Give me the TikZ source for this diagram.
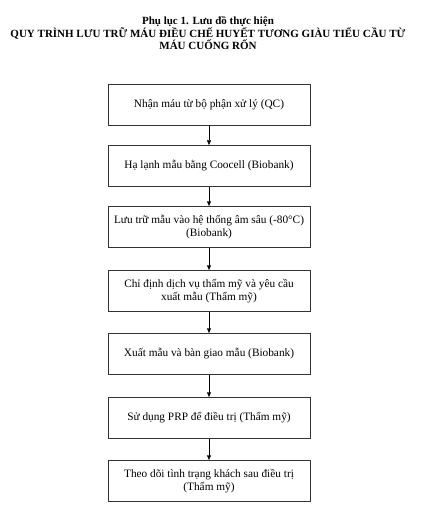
\documentclass[tikz,border=0pt]{standalone}
\usepackage{fontspec}
\setmainfont{Liberation Serif}
\usetikzlibrary{arrows.meta}
\begin{document}
\begin{tikzpicture}
    [
    x=1pt,y=1pt,
    stepbox/.style={rectangle,draw=black!80,thin,align=center,inner sep=0pt,minimum height=41pt, minimum width=202pt,font=\fontsize{11.3}{13.5}\selectfont},
    heading/.style={align=center,font=\bfseries\fontsize{11}{11.5}\selectfont}
    ]
    \useasboundingbox (0,0) rectangle (420,-505);
    \node (title) at (208,-33) [heading] {Phụ lục 1. Lưu đồ thực hiện\\QUY TRÌNH LƯU TRỮ MÁU ĐIỀU CHẾ HUYẾT TƯƠNG GIÀU TIỂU CẦU TỪ\\MÁU CUỐNG RỐN};

    \node (0) at (209,-104.5) [stepbox] {Nhận máu từ bộ phận xử lý (QC)};
    \node (1) at (209,-166) [stepbox] {Hạ lạnh mẫu bằng Coocell (Biobank)};
    \node (2) at (209,-227) [stepbox] {Lưu trữ mẫu vào hệ thống âm sâu (-80°C)\\(Biobank)};
    \node (3) at (209,-291) [stepbox] {Chỉ định dịch vụ thẩm mỹ và yêu cầu\\xuất mẫu (Thẩm mỹ)};
    \node (4) at (209,-354) [stepbox] {Xuất mẫu và bàn giao mẫu (Biobank)};
    \node (5) at (209,-418) [stepbox] {Sử dụng PRP để điều trị (Thẩm mỹ)};
    \node (6) at (209,-481) [stepbox] {Theo dõi tình trạng khách sau điều trị\\(Thẩm mỹ)};

    \draw [-{Latex[length=5pt,width=4.5pt]}] (0) to (1);
    \draw [-{Latex[length=5pt,width=4.5pt]}] (1) to (2);
    \draw [-{Latex[length=5pt,width=4.5pt]}] (2) to (3);
    \draw [-{Latex[length=5pt,width=4.5pt]}] (3) to (4);
    \draw [-{Latex[length=5pt,width=4.5pt]}] (4) to (5);
    \draw [-{Latex[length=5pt,width=4.5pt]}] (5) to (6);
  \end{tikzpicture}
\end{document}
